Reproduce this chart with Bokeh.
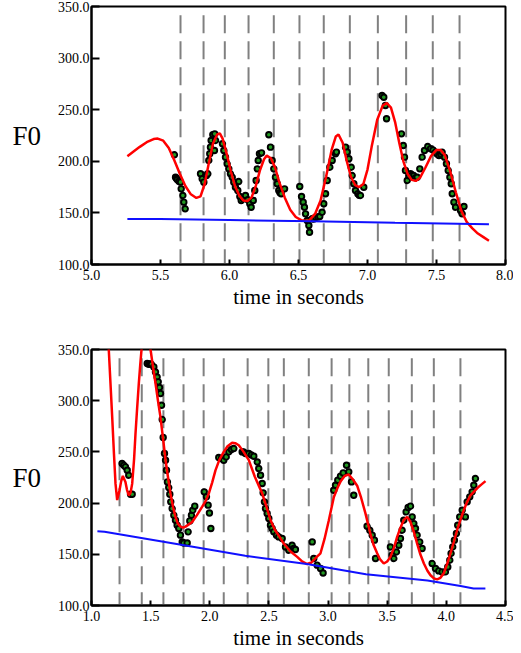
from bokeh.plotting import figure
from bokeh.layouts import column
from bokeh.models import FixedTicker, NumeralTickFormatter, Range1d
from bokeh.embed import file_html
from bokeh.resources import INLINE

# ---------------- data: upper utterance ----------------
top_bounds = [5.645, 5.812, 5.966, 6.138, 6.321, 6.507, 6.683, 6.872, 7.075, 7.280, 7.473, 7.667]

top_pts_t = [5.601, 5.609, 5.615, 5.621, 5.633, 5.645, 5.650, 5.662, 5.669, 5.679,
             5.790, 5.802, 5.814, 5.833, 5.843, 5.850, 5.857, 5.862, 5.867, 5.879, 5.893, 5.899, 5.891,
             5.949, 5.959, 5.971, 5.983, 5.995, 6.007, 6.020, 6.031, 6.043, 6.060, 6.067, 6.075, 6.085,
             6.099, 6.116, 6.133, 6.147, 6.157, 6.172, 6.183, 6.193, 6.201, 6.208, 6.217, 6.232,
             6.285, 6.297, 6.309, 6.321, 6.333, 6.346, 6.357, 6.366, 6.375, 6.399,
             6.509, 6.522, 6.534, 6.543, 6.551, 6.563, 6.575, 6.580, 6.599, 6.610, 6.623, 6.640, 6.654,
             6.671, 6.683, 6.696, 6.708, 6.727, 6.744, 6.768, 6.775,
             6.841, 6.853, 6.865, 6.882, 6.889, 6.901, 6.913, 6.930, 6.940, 6.949, 6.973,
             7.106, 7.118, 7.130, 7.138,
             7.246, 7.259, 7.268, 7.275, 7.288, 7.300, 7.312, 7.324, 7.336, 7.348, 7.360, 7.379, 7.396, 7.413,
             7.437, 7.457, 7.475, 7.493, 7.505, 7.518, 7.530, 7.541, 7.558, 7.572, 7.585, 7.597, 7.607,
             7.614, 7.626, 7.638, 7.674, 7.686, 7.699]
top_pts_f = [206.3, 184.6, 183.5, 182.4, 180.7, 179.8, 173.3, 166.9, 160.4, 154.0,
             187.9, 183.0, 179.8, 186.2, 187.9, 200.8, 207.3, 213.7, 220.2, 225.7, 226.6, 220.2, 210.5,
             217.0, 210.5, 204.0, 197.6, 192.7, 187.9, 184.6, 179.8, 174.9, 171.7, 180.4, 165.9, 162.0,
             163.6, 166.9, 162.7, 158.8, 155.5, 162.0, 171.7, 181.4, 192.7, 200.8, 207.3, 208.2,
             225.7, 213.7, 200.8, 192.7, 184.6, 178.2, 171.7, 169.5, 168.5, 173.3,
             175.6, 165.9, 160.4, 155.5, 149.1, 142.6, 137.8, 131.3, 144.3, 144.0, 145.9, 146.0, 146.5,
             150.7, 158.8, 168.5, 181.4, 194.3, 200.8, 207.3, 208.9,
             213.7, 208.9, 202.4, 194.3, 186.2, 178.2, 171.7, 168.5, 167.0, 166.9, 174.9,
             263.8, 262.1, 254.1, 241.2,
             226.6, 215.3, 204.0, 191.1, 181.4, 186.0, 187.9, 186.5, 186.2, 184.0, 184.6, 192.7, 204.0, 210.5,
             214.3, 212.1, 211.0, 208.9, 207.0, 205.6, 207.0, 208.9, 204.0, 197.6, 191.1, 184.6, 178.2,
             168.5, 160.4, 155.5, 152.3, 149.1, 156.2]

top_fit_t = [5.26, 5.30, 5.35, 5.40, 5.45, 5.48, 5.52, 5.56, 5.60, 5.64, 5.68, 5.72, 5.76, 5.79,
             5.82, 5.85, 5.88, 5.91, 5.93, 5.95, 5.98, 6.01, 6.04, 6.07, 6.10, 6.13, 6.16, 6.19,
             6.22, 6.25, 6.27, 6.30, 6.33, 6.36, 6.40, 6.44, 6.48, 6.52, 6.55, 6.58, 6.62, 6.66,
             6.70, 6.74, 6.77, 6.79, 6.82, 6.85, 6.88, 6.91, 6.94, 6.97, 7.00, 7.03, 7.07, 7.11,
             7.14, 7.17, 7.20, 7.23, 7.26, 7.29, 7.32, 7.35, 7.38, 7.42, 7.46, 7.50, 7.53, 7.56,
             7.60, 7.64, 7.68, 7.72, 7.76, 7.80, 7.84, 7.88]
top_fit_f = [205, 209, 214, 218.5, 221.5, 222, 220, 213, 201, 188, 176, 168, 164.5, 166,
             178, 198, 217, 226, 227, 222, 207, 190, 176, 167, 162, 161.5, 165, 176,
             191, 202, 205.5, 203, 194, 180, 165, 153, 146, 143, 142.5, 143, 149, 162,
             185, 211, 224, 226, 218, 200, 185, 177, 175, 178, 192, 214, 240, 254,
             256.5, 252, 238, 218, 200, 188, 182, 181, 184, 194, 205, 211, 211, 206,
             190, 170, 152, 141, 135, 130, 126.5, 123]

top_base_t = [5.26, 5.50, 6.00, 6.60, 7.20, 7.88]
top_base_f = [144.0, 144.0, 143.0, 142.0, 140.5, 139.0]

# ---------------- data: lower utterance ----------------
bot_bounds = [1.237, 1.425, 1.608, 1.778, 1.948, 2.118, 2.320, 2.495, 2.626, 2.837,
              3.030, 3.180, 3.340, 3.513, 3.708, 3.894, 4.119]

bot_pts_t = [1.259, 1.273, 1.287, 1.302, 1.315, 1.330, 1.344,
             1.471, 1.484, 1.495, 1.507, 1.527, 1.541, 1.555, 1.564, 1.575, 1.583, 1.592, 1.598, 1.606,
             1.617, 1.626, 1.634, 1.642, 1.653, 1.662, 1.670, 1.682, 1.696, 1.710, 1.724, 1.738, 1.752,
             1.767, 1.780, 1.809, 1.817, 1.831, 1.845, 1.856, 1.873,
             1.953, 1.972, 1.986, 1.997, 2.009,
             2.076, 2.099, 2.118, 2.139, 2.161, 2.183, 2.203, 2.274, 2.287, 2.302, 2.330, 2.352, 2.372,
             2.401, 2.414, 2.429, 2.443, 2.451, 2.462, 2.471, 2.485, 2.499, 2.513, 2.527, 2.541, 2.564,
             2.583, 2.612, 2.640, 2.668, 2.696, 2.710, 2.724,
             2.866, 2.879, 2.908, 2.936, 2.958,
             3.048, 3.063, 3.082, 3.105, 3.128, 3.156, 3.175, 3.198, 3.217,
             3.330, 3.353, 3.373, 3.392, 3.401,
             3.527, 3.541, 3.556, 3.578, 3.598, 3.612, 3.626, 3.640, 3.660, 3.677, 3.697, 3.711, 3.725,
             3.739, 3.753, 3.775, 3.795,
             3.880, 3.908, 3.936, 3.964, 3.992, 4.012, 4.029, 4.040, 4.054, 4.068, 4.085, 4.096, 4.113,
             4.134, 4.161, 4.176, 4.198, 4.218, 4.232, 4.246]
bot_pts_f = [238.7, 237.0, 235.4, 232.1, 227.2, 208.7, 208.7,
             336.3, 335.6, 336.0, 335.6, 333.0, 328.1, 323.2, 318.4, 312.9, 307.0, 295.6, 281.6, 264.1,
             248.4, 241.9, 232.1, 220.7, 215.2, 208.7, 201.2, 194.7, 188.2, 183.3, 178.4, 175.2, 168.7,
             162.1, 161.1, 161.1, 171.9, 182.6, 188.2, 193.1, 197.0,
             211.0, 206.1, 198.0, 190.4, 175.2,
             244.5, 243.6, 241.9, 245.1, 250.0, 252.3, 253.3, 250.0, 250.0, 248.4, 248.4, 247.0, 245.8,
             240.2, 233.8, 227.2, 219.1, 210.0, 201.2, 194.7, 189.8, 185.0, 178.4, 175.2, 171.9, 168.7,
             167.0, 165.4, 157.2, 154.0, 158.9, 155.7, 154.7,
             162.1, 145.9, 139.4, 136.1, 131.8,
             212.6, 217.5, 222.4, 226.3, 229.5, 237.0, 230.5, 220.7, 207.7,
             177.4, 173.5, 168.7, 163.8, 145.9,
             157.2, 149.1, 145.9, 152.3, 158.9, 165.4, 173.5, 183.3, 191.4, 195.7, 197.0, 186.5, 180.0,
             175.2, 168.7, 162.1, 155.7,
             141.0, 136.1, 133.8, 132.8, 132.8, 137.7, 144.2, 150.8, 157.2, 163.8, 170.3, 178.4, 186.5,
             193.0, 186.5, 201.2, 206.1, 211.0, 217.5, 224.0]

bot_fit_t = [1.135, 1.146, 1.160, 1.175, 1.190, 1.203, 1.217, 1.237, 1.250, 1.265, 1.287, 1.300,
             1.315, 1.330, 1.344, 1.360, 1.372, 1.386, 1.400, 1.412, 1.423, 1.440, 1.460, 1.480,
             1.499, 1.520, 1.541, 1.562, 1.583, 1.605, 1.626, 1.647, 1.668, 1.690, 1.710, 1.730,
             1.752, 1.775, 1.795, 1.820, 1.851, 1.890, 1.936, 1.965, 1.992, 2.020, 2.048, 2.080,
             2.118, 2.150, 2.189, 2.215, 2.245, 2.280, 2.330, 2.380, 2.443, 2.480, 2.513, 2.550,
             2.590, 2.625, 2.680, 2.739, 2.780, 2.823, 2.860, 2.900, 2.936, 2.970, 3.006, 3.049,
             3.080, 3.105, 3.140, 3.175, 3.210, 3.246, 3.280, 3.316, 3.358, 3.385, 3.415, 3.440,
             3.471, 3.500, 3.527, 3.556, 3.584, 3.612, 3.640, 3.669, 3.697, 3.725, 3.753, 3.780,
             3.810, 3.840, 3.866, 3.895, 3.922, 3.950, 3.978, 4.005, 4.035, 4.063, 4.091, 4.120,
             4.147, 4.175, 4.204, 4.240, 4.274, 4.300, 4.331]
bot_fit_f = [375, 350, 318, 284, 248, 219, 203, 212.5, 221, 226.5, 220.5, 213,
             207.5, 210, 219, 243, 268, 293, 317, 335, 350, 368, 375, 366,
             350, 333, 317, 300, 284, 263, 242, 225, 209, 196, 186.5, 180,
             177, 176, 177, 179, 181.5, 188, 196.5, 202, 209.5, 220, 232, 242,
             250, 255.5, 259, 258.5, 256.5, 251, 242, 226, 209.5, 196, 183.5, 174,
             167, 160.5, 153, 147.5, 143, 140.5, 142, 147, 151, 165, 183, 206,
             215, 221, 226.5, 228, 223, 217, 205, 190, 170, 159, 151, 145,
             141, 143, 147.5, 156, 167, 176, 183.5, 186.5, 181.5, 172, 160.5, 150,
             141, 134, 129.5, 126.5, 125.5, 127, 131.5, 140, 151, 162, 173.5, 184,
             193, 201, 207.5, 212, 216, 218.5, 221.5]

bot_base_t = [1.05, 1.11, 1.77, 2.30, 2.82, 3.32, 3.84, 4.12, 4.23, 4.33]
bot_base_f = [172.5, 172.0, 159.0, 148.5, 140.5, 130.5, 124.5, 119.0, 116.5, 116.5]

x_ticks_top = [5.0, 5.5, 6.0, 6.5, 7.0, 7.5, 8.0]
x_ticks_bot = [1.0, 1.5, 2.0, 2.5, 3.0, 3.5, 4.0, 4.5]
y_ticks = [100, 150, 200, 250, 300, 350]

FONT = "Liberation Serif"


def make_panel(xr, xticks, bounds, pts_t, pts_f, fit_t, fit_f, base_t, base_f,
               height, border_top, border_bottom):
    p = figure(width=513, height=height, output_backend="svg", toolbar_location=None,
               x_range=Range1d(*xr), y_range=Range1d(100, 350),
               min_border_left=91, min_border_right=8,
               min_border_top=border_top, min_border_bottom=border_bottom,
               background_fill_color="white", border_fill_color="white")
    p.grid.visible = False
    p.outline_line_color = "black"
    p.outline_line_width = 2
    p.outline_line_alpha = 1

    # syllable boundaries
    p.segment(x0=bounds, x1=bounds, y0=[341.5] * len(bounds), y1=[100] * len(bounds),
              line_color="#808080", line_width=2, line_dash="18 8")
    # data points
    p.scatter(pts_t, pts_f, size=5.5, fill_color="#229922", line_color="black", line_width=1.9)
    # fitted contour
    p.line(fit_t, fit_f, line_color="#ff0000", line_width=2.5)
    # baseline
    p.line(base_t, base_f, line_color="#1010ff", line_width=2)

    xa = p.xaxis[0]
    xa.ticker = FixedTicker(ticks=xticks)
    xa.formatter = NumeralTickFormatter(format="0.0")
    xa.axis_label = "time in seconds"
    xa.axis_label_text_font = FONT
    xa.axis_label_text_font_size = "21px"
    xa.axis_label_text_font_style = "normal"
    xa.axis_label_text_color = "black"
    xa.axis_label_standoff = 2
    xa.major_label_text_font = FONT
    xa.major_label_text_font_size = "14px"
    xa.major_label_text_color = "black"
    xa.major_label_standoff = 5
    xa.major_tick_in = 5
    xa.major_tick_out = 0
    xa.major_tick_line_width = 2
    xa.minor_tick_line_color = None
    xa.axis_line_width = 2

    ya = p.yaxis[0]
    ya.ticker = FixedTicker(ticks=y_ticks)
    ya.formatter = NumeralTickFormatter(format="0.0")
    ya.axis_label = "F0"
    ya.axis_label_orientation = "horizontal"
    ya.axis_label_text_font = FONT
    ya.axis_label_text_font_size = "27px"
    ya.axis_label_text_font_style = "normal"
    ya.axis_label_text_color = "black"
    ya.axis_label_standoff = 14
    ya.major_label_text_font = FONT
    ya.major_label_text_font_size = "14px"
    ya.major_label_text_color = "black"
    ya.major_label_standoff = 2
    ya.major_tick_in = 8
    ya.major_tick_out = 0
    ya.major_tick_line_width = 2
    ya.minor_tick_line_color = None
    ya.axis_line_width = 2
    return p


p1 = make_panel((5.0, 8.0), x_ticks_top, top_bounds, top_pts_t, top_pts_f,
                top_fit_t, top_fit_f, top_base_t, top_base_f,
                height=314, border_top=6, border_bottom=50)
p2 = make_panel((1.0, 4.5), x_ticks_bot, bot_bounds, bot_pts_t, bot_pts_f,
                bot_fit_t, bot_fit_f, bot_base_t, bot_base_f,
                height=339, border_top=35, border_bottom=48)

layout = column(p1, p2, spacing=0)
open("out.html", "w").write(file_html(layout, INLINE))
